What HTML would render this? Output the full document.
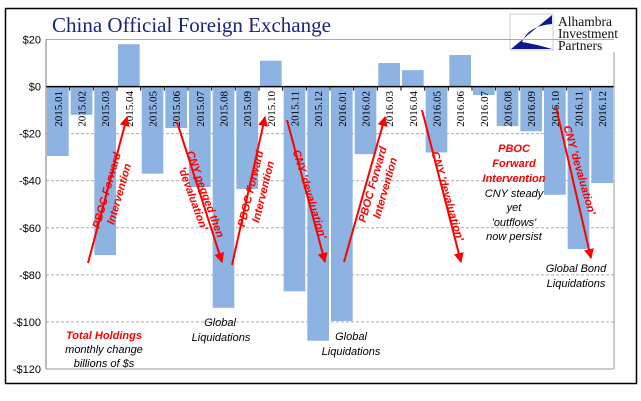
<!DOCTYPE html>
<html><head><meta charset="utf-8"><style>
body{margin:0;background:#fff;width:641px;height:401px;overflow:hidden}
svg{display:block;font-family:"Liberation Sans",sans-serif}
.r{fill:#f00;font-style:italic;font-weight:bold;font-size:11px}
.k{fill:#000;font-style:italic;font-size:11px}
</style></head><body>
<svg id="c" width="641" height="401">
<defs><marker id="ah" viewBox="0 0 10 10" refX="9" refY="5" markerWidth="5" markerHeight="5" orient="auto"><path d="M0,0L10,5L0,10z" fill="#f00"/></marker></defs>
<rect x="5.5" y="8.5" width="631" height="375" fill="none" stroke="#000" stroke-width="1.5"/>
<text x="52" y="32" font-family="Liberation Serif,serif" font-size="21" fill="#1a237e">China Official Foreign Exchange</text>
<g>
<rect x="510" y="14" width="43" height="36" fill="#fff" stroke="#ccc"/>
<path d="M511,49 L552,15 L552,24 Q528,26 522,42 Q535,44 552,49 Z" fill="#0d1a8c"/>
<text x="558" y="26" font-family="Liberation Serif,serif" font-size="13.5" fill="#111">Alhambra</text>
<text x="558" y="38" font-family="Liberation Serif,serif" font-size="13.5" fill="#111">Investment</text>
<text x="558" y="50" font-family="Liberation Serif,serif" font-size="13.5" fill="#111">Partners</text>
</g>
<g id="grid"></g><g id="bars"></g><g id="axes"></g>
<g>
<line x1="88" y1="263" x2="127" y2="117" stroke="#f00" stroke-width="2" marker-end="url(#ah)"/>
<line x1="177" y1="122" x2="222" y2="262" stroke="#f00" stroke-width="2" marker-end="url(#ah)"/>
<line x1="232" y1="265" x2="265" y2="117" stroke="#f00" stroke-width="2" marker-end="url(#ah)"/>
<line x1="287" y1="120" x2="325" y2="262" stroke="#f00" stroke-width="2" marker-end="url(#ah)"/>
<line x1="344" y1="262" x2="385" y2="117" stroke="#f00" stroke-width="2" marker-end="url(#ah)"/>
<line x1="422" y1="110" x2="461" y2="262" stroke="#f00" stroke-width="2" marker-end="url(#ah)"/>
<line x1="556" y1="107" x2="591" y2="258" stroke="#f00" stroke-width="2" marker-end="url(#ah)"/>
<g transform="translate(112,192) rotate(-74)"><text class="r" text-anchor="middle" y="-2">PBOC Forward</text><text class="r" text-anchor="middle" y="11">Intervention</text></g>
<g transform="translate(200,196) rotate(70)"><text class="r" text-anchor="middle" y="-2">CNY pegged then</text><text class="r" text-anchor="middle" y="11">'devaluation'</text></g>
<g transform="translate(256,190) rotate(-76)"><text class="r" text-anchor="middle" y="-2">PBOC Forward</text><text class="r" text-anchor="middle" y="11">Intervention</text></g>
<g transform="translate(310,194) rotate(73)"><text class="r" text-anchor="middle" y="4">CNY 'devaluation'</text></g>
<g transform="translate(378,186) rotate(-74)"><text class="r" text-anchor="middle" y="-2">PBOC Forward</text><text class="r" text-anchor="middle" y="11">Intervention</text></g>
<g transform="translate(448,196) rotate(74)"><text class="r" text-anchor="middle" y="4">CNY 'devaluation'</text></g>
<g transform="translate(580,170) rotate(74)"><text class="r" text-anchor="middle" y="4">CNY 'devaluation'</text></g>
<text class="r" font-size="12" x="514" y="152" text-anchor="middle">PBOC</text>
<text class="r" font-size="12" x="514" y="167" text-anchor="middle">Forward</text>
<text class="r" font-size="12" x="514" y="182" text-anchor="middle">Intervention</text>
<text class="k" x="514" y="197" text-anchor="middle">CNY steady</text>
<text class="k" x="514" y="211" text-anchor="middle">yet</text>
<text class="k" x="514" y="226" text-anchor="middle">'outflows'</text>
<text class="k" x="514" y="240" text-anchor="middle">now persist</text>
<text class="k" x="576" y="272" text-anchor="middle">Global  Bond</text>
<text class="k" x="576" y="287" text-anchor="middle">Liquidations</text>
<text class="k" x="220" y="326" text-anchor="middle">Global</text>
<text class="k" x="221" y="341" text-anchor="middle">Liquidations</text>
<text class="k" x="351" y="340" text-anchor="middle">Global</text>
<text class="k" x="351" y="355" text-anchor="middle">Liquidations</text>
<text class="r" font-size="14" x="104" y="339" text-anchor="middle">Total Holdings</text>
<text class="k" font-size="9.5" x="104" y="353" text-anchor="middle">monthly change</text>
<text class="k" font-size="9.5" x="104" y="367" text-anchor="middle">billions of $s</text>
</g>
</svg>
<script>
const categories=["2015.01","2015.02","2015.03","2015.04","2015.05","2015.06","2015.07","2015.08","2015.09","2015.10","2015.11","2015.12","2016.01","2016.02","2016.03","2016.04","2016.05","2016.06","2016.07","2016.08","2016.09","2016.10","2016.11","2016.12"];
const values=[-29.5,-12,-71.6,18,-37,-17.6,-42.7,-94,-43.5,11,-87,-108,-99.6,-28.7,10,7,-28,13.4,-3.6,-16.8,-19,-46,-69,-41];
const ticks=[20,0,-20,-40,-60,-80,-100,-120];
const tickLabels=["$20","$0","-$20","-$40","-$60","-$80","-$100","-$120"];
const NS="http://www.w3.org/2000/svg";
const L=46,R=614,T=39.5,B=369,ymax=20,ymin=-120;
const y=v=>T+(ymax-v)/(ymax-ymin)*(B-T);
const bw=(R-L)/categories.length;
const x=i=>L+i*bw;
function mk(t,a,p){const e=document.createElementNS(NS,t);for(const k in a)e.setAttribute(k,a[k]);p.appendChild(e);return e;}
const grid=document.getElementById('grid'),bars=document.getElementById('bars'),axes=document.getElementById('axes');
ticks.forEach((t,i)=>{
 if(t!==0&&t!==ymin){const g=mk('line',{x1:L,x2:R,y1:y(t),y2:y(t),stroke:'#aaa','stroke-dasharray':t===ymax?'':'3,2'},grid);
 
 }
 const tl=mk('text',{x:41,y:y(t)+4,'text-anchor':'end','font-size':'11',fill:'#000'},axes);
 tl.textContent=tickLabels[i];
 
 
});
values.forEach((v,i)=>{
 const r=mk('rect',{x:x(i)+1,width:bw-2,y:Math.min(y(v),y(0)),height:Math.abs(y(v)-y(0)),fill:'#8db3e2'},bars);
 
 
 const cx=x(i)+bw/2+4;
 const lb=mk('text',{transform:`translate(${cx},91) rotate(-90)`,'text-anchor':'end','font-family':'Liberation Serif,serif','font-size':'11',fill:'#000'},axes);
 lb.textContent=categories[i];
 
 
 const tk=mk('line',{x1:x(i),x2:x(i),y1:y(0),y2:y(0)+4,stroke:'#000'},axes);
 
 
});
const za=mk('line',{x1:L,x2:R,y1:y(0),y2:y(0),stroke:'#000','stroke-width':1.5},axes);


const ya=mk('line',{x1:L,x2:L,y1:T,y2:B,stroke:'#777'},axes);


const ra=mk('line',{x1:R,x2:R,y1:52,y2:B,stroke:'#999'},axes);


const ba=mk('line',{x1:L,x2:R,y1:B,y2:B,stroke:'#999'},axes);


</script>
</body></html>
